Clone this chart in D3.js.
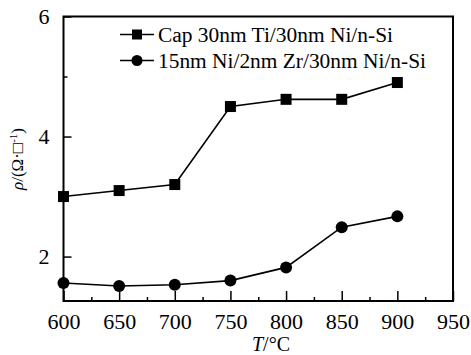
<!DOCTYPE html>
<html>
<head>
<meta charset="utf-8">
<script src="https://cdn.jsdelivr.net/npm/d3@7"></script>
<style>
  body { margin: 0; background: #fff; }
  text { font-family: "Liberation Serif", "DejaVu Serif", serif; fill: #000; }
</style>
</head>
<body>
<svg id="chart"></svg>
<script>
const temps = [600, 650, 700, 750, 800, 850, 900];
const capValues = [3.0, 3.1, 3.2, 4.5, 4.62, 4.62, 4.9];
const zrValues = [1.56, 1.51, 1.53, 1.6, 1.82, 2.49, 2.67];
const seriesNames = ["Cap 30nm Ti/30nm Ni/n-Si", "15nm Ni/2nm Zr/30nm Ni/n-Si"];
const xTicks = [600, 650, 700, 750, 800, 850, 900, 950];
const yTicks = [2, 4, 6];

const width = 471, height = 355;
const margin = {top: 16.5, right: 18, bottom: 54, left: 63.5};
const serif = "'Liberation Serif', 'DejaVu Serif', serif";

const svg = d3.select("#chart").attr("width", width).attr("height", height);

const x = d3.scaleLinear().domain([600, 950]).range([margin.left, width - margin.right]);
const y = d3.scaleLinear().domain([1.26, 6]).range([height - margin.bottom, margin.top]);

// frame
svg.append("rect")
  .attr("x", margin.left).attr("y", margin.top)
  .attr("width", x(950) - x(600)).attr("height", y(1.26) - y(6))
  .attr("fill", "none").attr("stroke", "#000").attr("stroke-width", 2);

// x axis, ticks pointing inward
const xAxis = svg.append("g")
  .attr("transform", `translate(0,${y(1.26)})`)
  .call(d3.axisBottom(x).tickValues(xTicks).tickSize(-10).tickPadding(12).tickFormat(d3.format("d")));
xAxis.append("g")
  .call(d3.axisBottom(x).tickValues(d3.range(625, 950, 50)).tickSize(-4).tickFormat(""));
xAxis.selectAll(".domain").remove();
xAxis.selectAll("line").attr("stroke", "#000").attr("stroke-width", 1.5);
xAxis.selectAll("text").style("font-family", serif).style("font-size", "22px").attr("dy", "0.71em");

// y axis
const yAxis = svg.append("g")
  .attr("transform", `translate(${x(600)},0)`)
  .call(d3.axisLeft(y).tickValues(yTicks).tickSize(-8).tickPadding(14).tickFormat(d3.format("d")));
yAxis.append("g")
  .call(d3.axisLeft(y).tickValues([3, 5]).tickSize(-4).tickFormat(""));
yAxis.selectAll(".domain").remove();
yAxis.selectAll("line").attr("stroke", "#000").attr("stroke-width", 1.5);
yAxis.selectAll("text").style("font-family", serif).style("font-size", "22px");

// axis titles
const xt = svg.append("text")
  .attr("x", 271).attr("y", 351)
  .attr("text-anchor", "middle").style("font-size", "20px");
xt.append("tspan").style("font-style", "italic").text("T");
xt.append("tspan").text("/°C");

const yt = svg.append("text")
  .attr("transform", "translate(23,159) rotate(-90)")
  .attr("text-anchor", "middle").style("font-size", "17px");
yt.append("tspan").style("font-style", "italic").text("ρ");
yt.append("tspan").text("/(Ω·□");
yt.append("tspan").attr("dy", -6).style("font-size", "11px").text("-1");
yt.append("tspan").attr("dy", 6).text(")");

const line = d3.line().x((d, i) => x(temps[i])).y(d => y(d));

const series = [
  {values: capValues, shape: "square"},
  {values: zrValues, shape: "circle"}
];

function drawMarker(g, shape, cx, cy, s) {
  if (shape === "square") {
    g.append("rect").attr("x", cx - s / 2).attr("y", cy - s / 2)
      .attr("width", s).attr("height", s).attr("fill", "#000");
  } else {
    g.append("circle").attr("cx", cx).attr("cy", cy).attr("r", s / 2).attr("fill", "#000");
  }
}

series.forEach(s => {
  svg.append("path").datum(s.values)
    .attr("d", line).attr("fill", "none")
    .attr("stroke", "#000").attr("stroke-width", 1.6);
  const g = svg.append("g");
  s.values.forEach((v, i) => drawMarker(g, s.shape, x(temps[i]), y(v), s.shape === "square" ? 11 : 12));
});

// legend
const legendWidths = [235, 268];
const legend = svg.append("g");
seriesNames.forEach((name, i) => {
  const ly = 34.5 + i * 26;
  legend.append("line").attr("x1", 120).attr("x2", 154).attr("y1", ly).attr("y2", ly)
    .attr("stroke", "#000").attr("stroke-width", 1.6);
  drawMarker(legend, series[i].shape, 137, ly, series[i].shape === "square" ? 10 : 11);
  legend.append("text").attr("x", 158).attr("y", ly).attr("dy", "0.35em")
    .attr("textLength", legendWidths[i]).attr("lengthAdjust", "spacingAndGlyphs")
    .style("font-size", "20px").text(name);
});
</script>
</body>
</html>
